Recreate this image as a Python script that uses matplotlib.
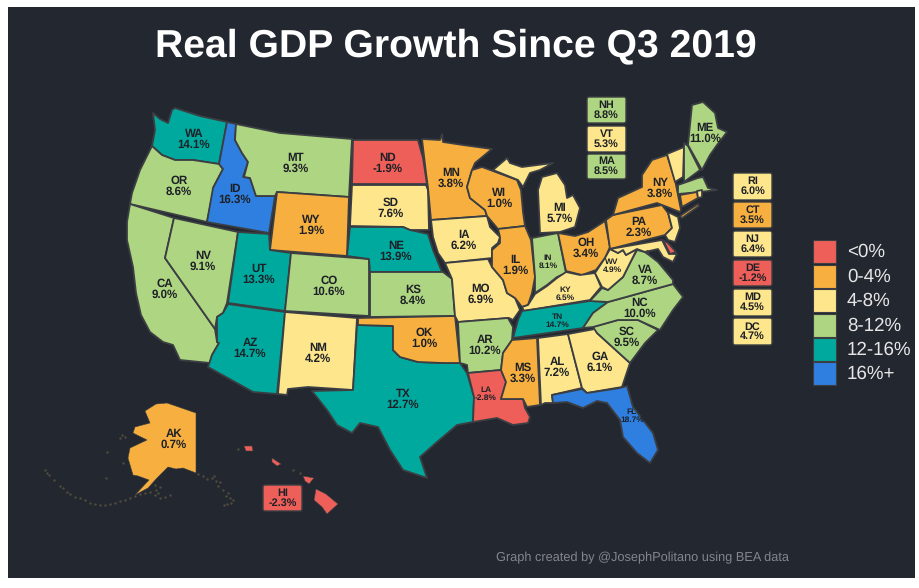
import numpy as np
import matplotlib
matplotlib.use('Agg')
import matplotlib.pyplot as plt
from matplotlib.patches import Polygon, Rectangle, FancyBboxPatch

plt.rcParams['font.family'] = ['Liberation Sans', 'DejaVu Sans']
plt.rcParams['text.hinting'] = 'no_hinting'

BG = '#232730'
EDGE = '#3b3e42'
TEXT = '#1d2026'

BINS = [0, 4, 8, 12, 16]
BIN_COLORS = ['#ef5f59', '#f7b03f', '#fde68c', '#aed581', '#00a99d', '#2f7fe0']
LEGEND_LABELS = ['<0%', '0-4%', '4-8%', '8-12%', '12-16%', '16%+']

STATES = ['WA', 'OR', 'CA', 'NV', 'ID', 'MT', 'WY', 'UT', 'CO', 'AZ', 'NM', 'TX', 'ND', 'SD', 'NE',
          'KS', 'OK', 'MN', 'IA', 'MO', 'AR', 'LA', 'WI', 'IL', 'IN', 'MI', 'OH', 'KY', 'TN', 'MS',
          'AL', 'GA', 'FL', 'SC', 'NC', 'VA', 'WV', 'PA', 'NY', 'ME', 'AK', 'HI',
          'NH', 'VT', 'MA', 'RI', 'CT', 'NJ', 'DE', 'MD', 'DC']
GROWTH = [14.1, 8.6, 9.0, 9.1, 16.3, 9.3, 1.9, 13.3, 10.6, 14.7, 4.2, 12.7, -1.9, 7.6, 13.9,
          8.4, 1.0, 3.8, 6.2, 6.9, 10.2, -2.8, 1.0, 1.9, 8.1, 5.7, 3.4, 6.5, 14.7, 3.3,
          7.2, 6.1, 18.7, 9.5, 10.0, 8.7, 4.9, 2.3, 3.8, 11.0, 0.7, -2.3,
          8.8, 5.3, 8.5, 6.0, 3.5, 6.4, -1.2, 4.5, 4.7]

# state outlines
OUTLINES = {
    'WA': [[(153, 113), (160, 119), (168, 123), (172, 110), (175, 108), (200, 116), (227, 122), (219, 164), (193, 160),
            (175, 160), (162, 155), (152, 146), (155, 130)]],
    'OR': [[(152, 146), (162, 155), (175, 160), (193, 160), (219, 164), (223, 169), (213, 188), (213, 192), (207, 222),
            (130, 204), (132, 193), (140, 170)]],
    'CA': [[(130, 204), (174, 218), (165, 258), (215, 329), (217, 342), (219, 343), (212, 355), (210, 363), (180, 360),
            (173, 345), (163, 342), (150, 332), (141, 315), (136, 293), (133, 267), (127, 240), (127, 222)]],
    'NV': [[(174, 218), (238, 232), (227, 303), (223, 313), (217, 317), (215, 329), (165, 258)]],
    'ID': [[(227, 122), (236, 124), (235, 140), (242, 153), (248, 162), (243, 177), (250, 178), (256, 196), (275, 196),
            (269, 233), (207, 222), (213, 188), (223, 169), (219, 164)]],
    'MT': [[(236, 124), (280, 133), (352, 139), (349, 197), (277, 192), (275, 196), (256, 196), (250, 178), (244, 177),
            (248, 162), (242, 153), (235, 140)]],
    'WY': [[(277, 192), (349, 197), (347, 256), (270, 250)]],
    'UT': [[(238, 232), (269, 234), (270, 250), (291, 253), (285, 311), (228, 303)]],
    'CO': [[(291, 253), (369, 259), (369, 316), (285, 311)]],
    'AZ': [[(228, 304), (285, 312), (277, 394), (253, 392), (208, 367), (212, 355), (219, 343), (217, 342), (217, 317),
            (223, 313)]],
    'NM': [[(285, 312), (357, 318), (353, 390), (308, 387), (288, 389), (287, 395), (278, 394)]],
    'TX': [[(357, 325), (393, 326), (393, 350), (400, 357), (418, 362), (443, 363), (460, 363), (467, 373), (474, 397),
            (473, 422), (457, 425), (437, 442), (420, 457), (427, 478), (403, 470), (390, 450), (378, 427), (360, 423),
            (352, 433), (337, 425), (327, 410), (312, 391), (353, 390)]],
    'ND': [[(353, 140), (418, 140), (423, 158), (427, 184), (352, 184)]],
    'SD': [[(352, 185), (426, 185), (428, 190), (429, 230), (410, 230), (403, 227), (350, 226)]],
    'NE': [[(350, 227), (403, 227), (410, 230), (428, 234), (433, 250), (442, 272), (370, 272), (369, 259), (347, 256)]],
    'KS': [[(370, 272), (443, 272), (452, 279), (455, 316), (370, 317)]],
    'OK': [[(358, 318), (455, 316), (460, 363), (443, 363), (418, 362), (400, 357), (393, 350), (393, 326), (358, 325)]],
    'MN': [[(422, 139), (440, 140), (442, 134), (443, 142), (463, 145), (492, 149), (475, 163), (472, 170), (467, 187),
            (470, 198), (485, 210), (487, 216), (431, 220), (428, 188), (426, 173)]],
    'IA': [[(431, 220), (487, 216), (490, 227), (500, 237), (498, 243), (492, 248), (492, 258), (445, 263), (438, 253),
            (433, 237)]],
    'MO': [[(445, 263), (488, 259), (492, 267), (503, 280), (507, 293), (515, 298), (520, 310), (513, 320), (509, 318),
            (458, 322), (455, 316), (452, 279)]],
    'AR': [[(458, 322), (508, 318), (513, 327), (512, 340), (503, 353), (501, 370), (468, 373), (467, 365), (460, 363)]],
    'LA': [[(468, 373), (501, 370), (506, 382), (501, 399), (523, 399), (525, 408), (530, 417), (528, 423), (513, 425),
            (497, 418), (473, 422), (474, 397)]],
    'WI': [[(472, 170), (482, 167), (493, 171), (517, 180), (521, 190), (523, 212), (525, 226), (498, 229), (487, 216),
            (485, 210), (470, 198), (467, 187)]],
    'IL': [[(498, 229), (525, 226), (531, 240), (535, 277), (532, 293), (528, 305), (522, 307), (515, 298), (507, 293),
            (503, 280), (492, 267), (492, 250), (500, 243), (500, 237)]],
    'IN': [[(532, 238), (558, 233), (566, 273), (557, 277), (547, 285), (535, 293), (535, 277)]],
    'MI': [[(540, 233), (538, 190), (542, 177), (557, 173), (565, 185), (567, 198), (573, 195), (580, 208), (575, 227),
            (560, 232)],
           [(493, 170), (507, 158), (510, 163), (522, 167), (553, 163), (540, 170), (530, 173), (523, 187), (518, 180)]],
    'OH': [[(558, 233), (575, 236), (588, 232), (605, 221), (610, 247), (605, 258), (596, 270), (582, 275), (566, 271)]],
    'KY': [[(535, 294), (547, 286), (557, 278), (566, 272), (580, 275), (595, 273), (601, 287), (590, 300), (524, 311),
            (522, 307), (528, 305)]],
    'TN': [[(522, 311), (590, 301), (608, 302), (593, 313), (583, 328), (513, 338), (518, 320)]],
    'MS': [[(512, 340), (537, 338), (540, 405), (527, 407), (523, 399), (501, 399), (506, 382), (501, 370), (503, 353)]],
    'AL': [[(538, 338), (568, 334), (582, 388), (552, 395), (553, 403), (545, 403), (541, 405)]],
    'GA': [[(568, 334), (595, 329), (597, 333), (630, 363), (622, 387), (587, 393), (582, 388)]],
    'FL': [[(552, 395), (582, 389), (587, 393), (620, 388), (627, 386), (633, 407), (653, 433), (658, 450), (650, 463),
            (637, 453), (623, 437), (620, 420), (607, 403), (597, 401), (583, 408), (567, 402), (553, 403)]],
    'SC': [[(593, 327), (618, 320), (638, 320), (658, 330), (645, 343), (630, 363), (597, 333)]],
    'NC': [[(608, 302), (673, 284), (683, 297), (673, 310), (660, 330), (638, 320), (618, 320), (593, 327), (583, 328),
            (593, 313)]],
    'VA': [[(590, 301), (602, 288), (608, 290), (623, 277), (630, 263), (637, 250), (645, 252), (658, 262), (673, 280),
            (673, 284), (608, 302)]],
    'WV': [[(610, 249), (618, 253), (623, 250), (626, 255), (637, 249), (630, 263), (623, 277), (608, 290), (602, 287),
            (595, 273), (605, 258)]],
    'PA': [[(606, 220), (613, 215), (662, 205), (668, 213), (672, 228), (665, 235), (610, 249)]],
    'NY': [[(667, 155), (675, 180), (681, 210), (680, 212), (657, 203), (613, 215), (618, 198), (642, 187), (642, 175),
            (652, 160)],
           [(680, 216), (698, 204), (699, 206), (682, 218)]],
    'VT': [[(667, 154), (684, 147), (683, 177), (675, 182)]],
    'NH': [[(684, 143), (688, 146), (700, 170), (684, 182)]],
    'ME': [[(688, 145), (692, 105), (703, 102), (715, 113), (718, 128), (727, 132), (717, 145), (710, 155), (702, 170)]],
    'MA': [[(678, 185), (698, 178), (703, 177), (708, 188), (717, 190), (700, 192), (678, 194)]],
    'CT': [[(680, 195), (697, 192), (698, 198), (682, 207)]],
    'RI': [[(697, 191), (702, 190), (702, 197), (698, 198)]],
    'NJ': [[(668, 212), (678, 217), (680, 228), (675, 242), (668, 240), (665, 235), (672, 228)]],
    'DE': [[(663, 240), (668, 243), (676, 252), (670, 254)]],
    'MD': [[(610, 249), (662, 240), (669, 254), (677, 254), (673, 262), (663, 257), (658, 249), (645, 252), (637, 249),
            (626, 255), (623, 250), (618, 253)]],
    'DC': [[(645, 252), (648, 251), (648, 254)]],
    'AK': [[(145, 411), (156, 404), (167, 403), (196, 413), (196, 473), (183, 468), (176, 469), (168, 467), (157, 478),
            (148, 488), (135, 495), (149, 480), (138, 476), (133, 475), (128, 458), (130, 448), (147, 440), (133, 433),
            (135, 427), (150, 423)]],
    'HI': [[(316, 489), (326, 494), (338, 504), (327, 514), (322, 507), (314, 500)],
           [(303, 476), (314, 478), (309, 484), (305, 481)],
           [(272, 458), (281, 464), (277, 466), (272, 462)],
           [(244, 446), (252, 446), (253, 451), (246, 451)]],
}
THIN_EDGE = ['AK', 'HI']

# small islands that show up only as faint specks
ISLAND_X = [45, 47, 49, 54, 60, 63, 67, 70, 75, 80, 85, 90, 95, 100, 105, 110, 115, 120, 125, 130, 135, 140, 145,
            150, 155, 160, 165, 170, 125, 122, 120, 107, 123, 106,
            198, 203, 207, 212, 214, 216, 218, 220, 223, 226, 228, 230, 233, 231, 227, 224,
            155, 156, 158, 160, 238, 293, 300]
ISLAND_Y = [470, 473, 475, 480, 486, 488, 492, 494, 497, 498, 500, 503, 504, 505, 505, 504, 503, 501, 500, 498, 496,
            494, 493, 492, 495, 498, 497, 495, 437, 435, 438, 452, 463, 478,
            474, 476, 479, 478, 476, 481, 486, 482, 490, 496, 493, 498, 500, 503, 504, 505,
            485, 490, 493, 487, 449, 470, 473]

# label anchors for everything drawn on the map itself
LABEL_POS = {
    'WA': (194, 139), 'OR': (179, 186), 'CA': (165, 289), 'NV': (203, 261), 'ID': (235, 194), 'MT': (296, 163),
    'WY': (311, 225), 'UT': (259, 274), 'CO': (329, 286), 'AZ': (250, 348), 'NM': (318, 353), 'TX': (403, 399),
    'ND': (388, 163), 'SD': (391, 208), 'NE': (396, 251), 'KS': (413, 295), 'OK': (424, 338), 'MN': (451, 178),
    'IA': (464, 240), 'MO': (481, 294), 'AR': (485, 345), 'LA': (486, 394), 'WI': (499, 198), 'IL': (515, 265),
    'IN': (548, 262), 'MI': (560, 213), 'OH': (586, 248), 'KY': (565, 294), 'TN': (557, 321), 'MS': (523, 373),
    'AL': (557, 367), 'GA': (600, 362), 'FL': (632, 416), 'SC': (627, 337), 'NC': (640, 308), 'VA': (645, 275),
    'WV': (612, 266), 'PA': (639, 227), 'NY': (660, 188), 'ME': (705, 133), 'AK': (174, 439),
}
SMALL_LABELS = ['IN', 'KY', 'TN', 'LA', 'FL', 'WV']

# boxed labels: state, left, top, right, bottom
BOXES = [('HI', 262, 484, 303, 512), ('NH', 586, 96, 627, 124), ('VT', 586, 125, 627, 153), ('MA', 586, 153, 627, 180),
         ('RI', 732, 172, 773, 201), ('CT', 732, 201, 773, 229), ('NJ', 732, 230, 773, 258), ('DE', 732, 259, 773, 287),
         ('MD', 732, 288, 773, 317), ('DC', 732, 317, 773, 346)]
LEGEND_TOPS = [240, 265, 289, 314, 338, 362]

growth_of = dict(zip(STATES, GROWTH))


def bin_color(value):
    return BIN_COLORS[int(np.digitize(value, BINS))]


def label_text(state):
    return f'{state}\n{growth_of[state]:.1f}%'


fig = plt.figure(figsize=(9.2, 5.88), dpi=100, facecolor='white')
ax = fig.add_axes([0, 0, 1, 1])
ax.set_xlim(0, 920)
ax.set_ylim(588, 0)
ax.axis('off')
ax.add_patch(Rectangle((8, 7), 907, 571, facecolor=BG, edgecolor='none', zorder=0))

ax.scatter(ISLAND_X, ISLAND_Y, s=3, marker='o', color='#4f4b3d', linewidths=0, zorder=1)

for state, parts in OUTLINES.items():
    for part in parts:
        ax.add_patch(Polygon(part, closed=True, facecolor=bin_color(growth_of[state]), edgecolor=EDGE,
                             linewidth=0.4 if state in THIN_EDGE else 1.3, joinstyle='round', zorder=2))

for state, (x, y) in LABEL_POS.items():
    small = state in SMALL_LABELS
    ax.text(x, y, label_text(state), ha='center', va='center', color=TEXT, fontweight='bold',
            fontsize=6.0 if small else 8.3, linespacing=0.95, zorder=4)

for state, x0, y0, x1, y1 in BOXES:
    ax.add_patch(FancyBboxPatch((x0 + 1, y0 + 1), x1 - x0 - 2, y1 - y0 - 2, boxstyle='round,pad=0,rounding_size=2',
                                facecolor=bin_color(growth_of[state]), edgecolor=EDGE, linewidth=1.0, zorder=3))
    ax.text((x0 + x1) / 2, (y0 + y1) / 2, label_text(state), ha='center', va='center', color=TEXT,
            fontweight='bold', fontsize=7.8, linespacing=0.95, zorder=4)

for top, color, name in zip(LEGEND_TOPS, BIN_COLORS, LEGEND_LABELS):
    ax.add_patch(Rectangle((813, top), 23, 23, facecolor=color, edgecolor=EDGE, linewidth=0.8, zorder=3))
    ax.text(847, top + 12, name, ha='left', va='center', color='#e6e6e6', fontsize=13.5, clip_on=False, zorder=4)
ax.add_patch(Rectangle((915, 0), 5, 588, facecolor='white', edgecolor='none', zorder=5))

ax.text(456, 46, 'Real GDP Growth Since Q3 2019', ha='center', va='center', color='white',
        fontweight='bold', fontsize=28.2, zorder=4)
ax.text(642, 558, 'Graph created by @JosephPolitano using BEA data', ha='center', va='center', color='#83868b',
        fontsize=9.2, zorder=4)

fig.savefig('out.png', dpi=100, facecolor='white')
